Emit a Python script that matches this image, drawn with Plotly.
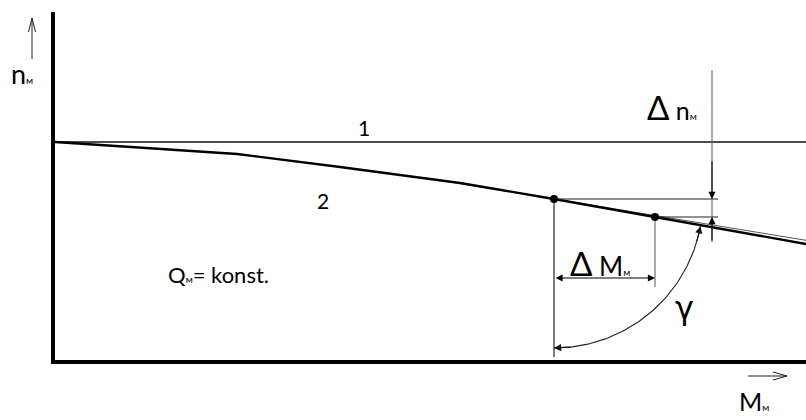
import numpy as np
import plotly.graph_objects as go

# Characteristic data (torque M on x, speed n on y, arbitrary units)
n_ideal = 218                                   # line 1: ideal motor, n independent of M
M_curve = [0, 182, 285, 405, 499, 600, 751]     # line 2: real motor
n_curve = [218, 206, 193, 177, 161, 143, 116]
op_index = [4, 5]                               # the two marked operating points
tangent_M = [373, 751]                          # tangent at the first operating point
tangent_n = [181.7, 119.7]

X_MAX, Y_MAX = 751, 348
ML, MR, MT, MB = 55, 0, 12, 60
W, H = 806, 420
FONT = "Lato, 'Open Sans', sans-serif"


def px(x):
    return (x - ML) / (W - ML - MR)


def py(y):
    return (H - MB - y) / (H - MT - MB)


op_M = [M_curve[i] for i in op_index]
op_n = [n_curve[i] for i in op_index]
ref_end = 663
dn_x = 657

fig = go.Figure()


def line(xs, ys, color="black", width=1.0):
    fig.add_trace(go.Scatter(x=xs, y=ys, mode="lines", hoverinfo="skip",
                             line=dict(color=color, width=width), showlegend=False))


# line 1
line([0, X_MAX], [n_ideal, n_ideal], "#111111", 1.3)
# tangent (thin) and curve 2
line(tangent_M, tangent_n, "#555555", 1.0)
line(M_curve, n_curve, "black", 2.3)

# horizontal reference lines from the operating points
line([op_M[0], ref_end], [op_n[0], op_n[0]], "#222222", 1.1)
line([op_M[1], ref_end], [op_n[1], op_n[1]], "#222222", 1.1)

# vertical lines for delta M
line([op_M[0], op_M[0]], [op_n[0], 3], "#111111", 1.1)
line([op_M[1], op_M[1]], [op_n[1], 73], "#666666", 1.1)

# vertical for delta n
line([dn_x, dn_x], [290, 118], "#666666", 1.1)

# gamma arc around the first operating point
r = 149
theta = np.radians(np.linspace(-90, -10.5, 80))
arc_x = op_M[0] + r * np.cos(theta)
arc_y = op_n[0] + r * np.sin(theta)
line(arc_x, arc_y, "#222222", 1.1)

# operating points
fig.add_trace(go.Scatter(x=op_M, y=op_n, mode="markers", hoverinfo="skip",
                         marker=dict(color="black", size=8), showlegend=False))

annotations = []


def arrow(x0, y0, x1, y1, side="end", color="black"):
    annotations.append(dict(x=x1, y=y1, ax=x0, ay=y0, xref="x", yref="y",
                            axref="x", ayref="y", text="", showarrow=True,
                            arrowhead=2, arrowsize=1.3, arrowwidth=1.1,
                            arrowcolor=color, arrowside=side, standoff=0,
                            startstandoff=0))


# delta n arrows
arrow(dn_x, 200, dn_x, op_n[0])
arrow(dn_x, 118, dn_x, op_n[1])
# delta M double arrow
arrow(op_M[0], 82, op_M[1], 82, side="end+start")
# gamma arc ends
t_end = np.radians([-10.5, -17])
arrow(op_M[0] + r * np.cos(t_end[1]), op_n[0] + r * np.sin(t_end[1]),
      op_M[0] + r * np.cos(t_end[0]), op_n[0] + r * np.sin(t_end[0]), color="#111111")
t_bot = np.radians([-90, -83])
arrow(op_M[0] + r * np.cos(t_bot[1]), op_n[0] + r * np.sin(t_bot[1]),
      op_M[0] + r * np.cos(t_bot[0]), op_n[0] + r * np.sin(t_bot[0]), color="#111111")


def label(x, y, text, size=22, xanchor="center", xref="x", yref="y", family=FONT):
    annotations.append(dict(x=x, y=y, xref=xref, yref=yref, text=text,
                            showarrow=False, xanchor=xanchor, yanchor="middle",
                            font=dict(family=family, size=size, color="black")))


sub = "<span style='font-size:10px'>м</span>"
delta = "<span style='font-size:33px'>Δ</span>"
label(309, 233, "1", size=21)
label(268, 160, "2", size=21)
label(111, 86, "Q" + sub + "= konst.", xanchor="left")
label(590, 253, delta + " n" + sub, size=25, xanchor="left")
label(513, 97, delta + " M" + sub, size=26, xanchor="left")
label(629, 52, "γ", size=32, family="'DejaVu Sans', sans-serif")
label(px(9), py(73), "n" + sub, size=27, xanchor="left", xref="paper", yref="paper")
label(px(737), py(401), "M" + sub, size=25, xanchor="left", xref="paper", yref="paper")

# axis direction arrows outside the plotting area
shapes = []


def pline(x0, y0, x1, y1):
    shapes.append(dict(type="line", xref="paper", yref="paper",
                       x0=px(x0), y0=py(y0), x1=px(x1), y1=py(y1),
                       line=dict(color="#222222", width=1)))


pline(32, 59, 32, 18)
pline(28.5, 32, 32, 18)
pline(35.5, 32, 32, 18)
pline(748, 376, 787, 376)
pline(773, 372, 787, 376)
pline(773, 380, 787, 376)

fig.update_layout(
    width=W, height=H, margin=dict(l=ML, r=MR, t=MT, b=MB),
    paper_bgcolor="white", plot_bgcolor="white",
    annotations=annotations, shapes=shapes,
    xaxis=dict(range=[0, X_MAX], showline=True, linewidth=3.5, linecolor="black",
               showgrid=False, zeroline=False, showticklabels=False, ticks=""),
    yaxis=dict(range=[0, Y_MAX], showline=True, linewidth=3.5, linecolor="black",
               showgrid=False, zeroline=False, showticklabels=False, ticks=""),
)

fig.write_html("out.html")
